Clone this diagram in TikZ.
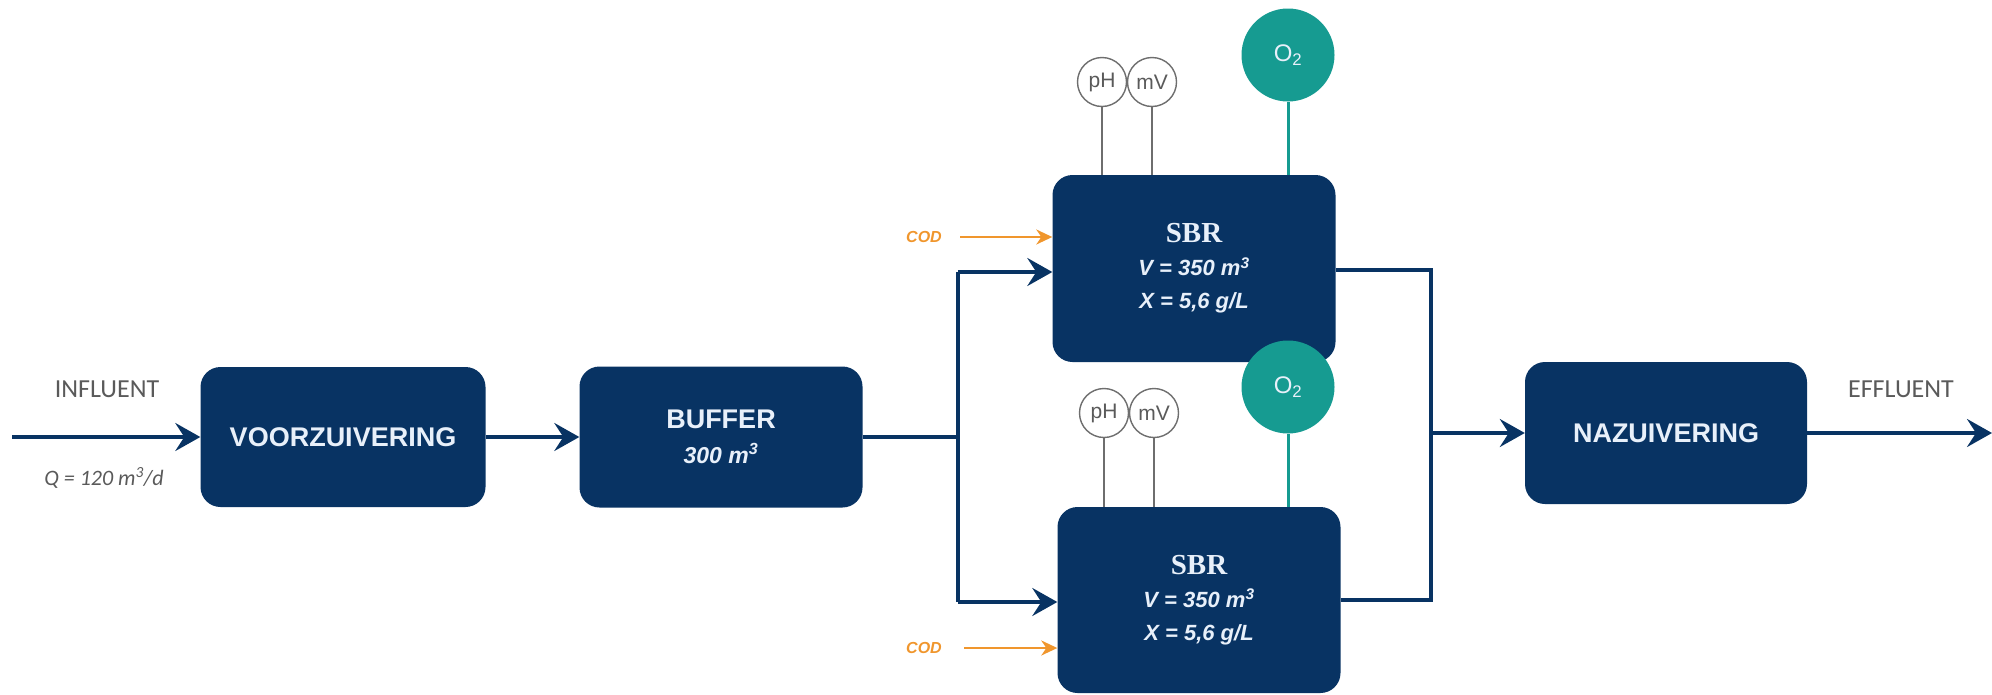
\documentclass[tikz,border=0pt]{standalone}
\usepackage{fontspec}
\setmainfont{Liberation Sans}
\newfontfamily\calib{Carlito}
\newfontfamily\timesf{Liberation Serif}
\usetikzlibrary{arrows.meta}
\definecolor{navy}{RGB}{8,51,99}
\definecolor{boxtext}{RGB}{232,240,250}
\definecolor{tealc}{RGB}{22,155,145}
\definecolor{codorange}{RGB}{240,150,45}
\definecolor{labelgray}{RGB}{90,90,90}
\definecolor{sensorgray}{RGB}{110,110,110}
\newcommand{\sbrtext}{{\timesf\fontsize{29}{33}\selectfont\bfseries SBR}\\{\bfseries\itshape V = 350 m\textsuperscript{3}}\\{\bfseries\itshape X = 5,6 g/L}}
\begin{document}
\begin{tikzpicture}[x=1pt,y=-1pt,
  procbox/.style={fill=navy, rounded corners=20pt, text=boxtext, inner sep=0pt, align=center},
  flow/.style={draw=navy, line width=3.5pt, -{Stealth[length=25pt,width=28pt,inset=9pt]}},
  pipe/.style={draw=navy, line width=3.5pt},
  codarrow/.style={draw=codorange, line width=2.2pt, -{Stealth[length=16pt,width=15pt,inset=5pt]}},
  sensor/.style={circle, draw=sensorgray, line width=1.4pt, fill=white, minimum size=49pt, inner sep=0pt, text=labelgray, font=\fontsize{21}{23}\selectfont},
  sensorline/.style={draw=sensorgray, line width=1.6pt},
  oxy/.style={circle, fill=tealc, minimum size=93pt, inner sep=0pt, text=boxtext, font=\fontsize{24}{26}\selectfont},
  oxyline/.style={draw=tealc, line width=3pt},
  biglabel/.style={font=\fontsize{27}{30}\selectfont\bfseries},
  sbrfont/.style={font=\fontsize{22}{33}\selectfont},
  sidelabel/.style={text=labelgray, font=\calib\fontsize{26}{28}\selectfont},
  codlabel/.style={text=codorange, font=\fontsize{16}{18}\selectfont\bfseries\itshape}
]
\useasboundingbox (0,0) rectangle (1992,694);

% process boxes
\node[procbox, minimum width=285pt, minimum height=140pt, biglabel] (voor) at (343,437) {VOORZUIVERING};
\node[procbox, minimum width=283pt, minimum height=141pt, font=\fontsize{23}{35}\selectfont] (buf) at (721,437)
  {{\fontsize{27}{35}\selectfont\bfseries BUFFER}\\{\bfseries\itshape 300 m\textsuperscript{3}}};
\node[procbox, minimum width=283pt, minimum height=187pt, sbrfont] (sbra) at (1194,268.5) {\sbrtext};
\node[procbox, minimum width=283pt, minimum height=186pt, sbrfont] (sbrb) at (1199,600) {\sbrtext};
\node[procbox, minimum width=282pt, minimum height=142pt, biglabel] (naz) at (1666,433) {NAZUIVERING};

% side labels
\node[sidelabel] (infl) at (107,389) {INFLUENT};
\node[text=labelgray, font=\calib\fontsize{22}{24}\selectfont\itshape] (qlab) at (104,478) {Q = 120 m\textsuperscript{3}/d};
\node[sidelabel] (effl) at (1901,389) {EFFLUENT};

% coordinates
\coordinate (inStart) at (12,437);
\coordinate (splitMid) at (958,437);
\coordinate (splitTop) at (958,272);
\coordinate (splitBot) at (958,602);
\coordinate (joinTop) at (1431,270);
\coordinate (joinBot) at (1431,600);
\coordinate (joinMid) at (1431,433);
\coordinate (outEnd) at (1992,433);

% main flow
\draw[flow] (inStart) -- (voor.west |- inStart);
\draw[flow] (voor.east) -- (buf.west);
\draw[pipe] (buf.east) -- (splitMid);
\draw[pipe] (splitTop) -- (splitBot);
\draw[flow] (splitTop) -- (sbra.west |- splitTop);
\draw[flow] (splitBot) -- (sbrb.west |- splitBot);
\draw[pipe] (sbra.east |- joinTop) -- (joinTop) -- (joinBot) -- (sbrb.east |- joinBot);
\draw[flow] (joinMid) -- (naz.west |- joinMid);
\draw[flow] (naz.east |- outEnd) -- (outEnd);

% COD feeds
\node[codlabel] (coda) at (924,237) {COD};
\draw[codarrow] (960,237) -- (sbra.west |- 0,237);
\node[codlabel] (codb) at (924,648) {COD};
\draw[codarrow] (964,648) -- (sbrb.west |- 0,648);

% sensors top
\node[sensor] (pha) at (1102,82) {pH};
\node[sensor] (mva) at (1152,82) {mV};
\draw[sensorline] (pha.south) -- (pha.south |- sbra.north);
\draw[sensorline] (mva.south) -- (mva.south |- sbra.north);
\node[oxy] (oxa) at (1288,55) {O\textsubscript{2}};
\draw[oxyline] (oxa.south) -- (oxa.south |- sbra.north);

% sensors bottom
\node[sensor] (phb) at (1104,413) {pH};
\node[sensor] (mvb) at (1154,413) {mV};
\draw[sensorline] (phb.south) -- (phb.south |- sbrb.north);
\draw[sensorline] (mvb.south) -- (mvb.south |- sbrb.north);
\node[oxy] (oxb) at (1288,387) {O\textsubscript{2}};
\draw[oxyline] (oxb.south) -- (oxb.south |- sbrb.north);
\end{tikzpicture}
\end{document}
